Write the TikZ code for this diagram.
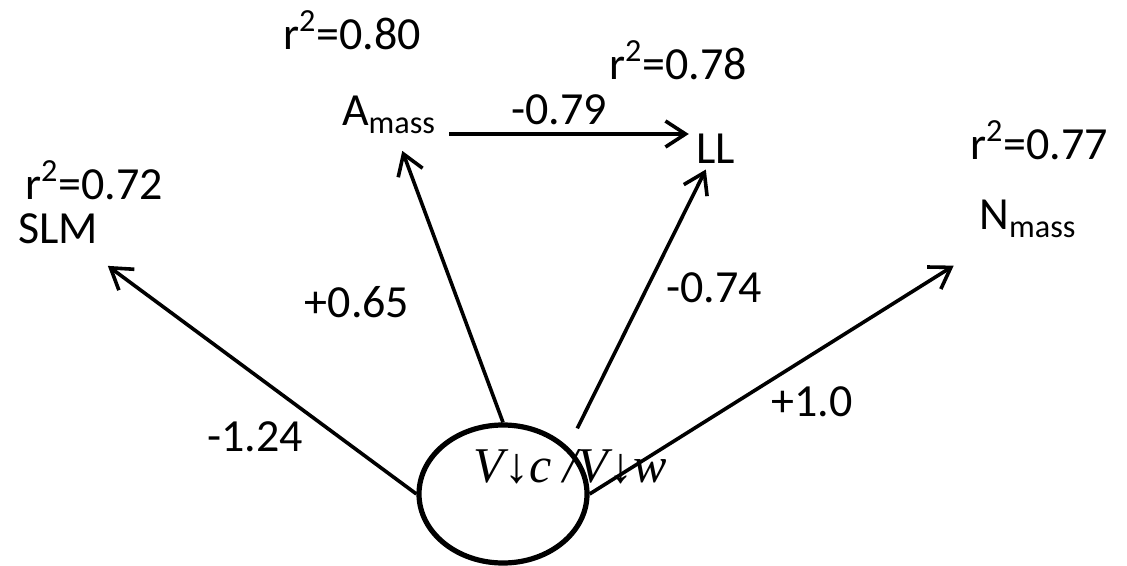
\documentclass[tikz,border=0pt]{standalone}
\usepackage{fontspec}
\setmainfont{Carlito}
\newfontfamily\ratiofont{Liberation Serif}
\usetikzlibrary{arrows.meta,shapes.geometric}
\begin{document}
\begin{tikzpicture}[x=0.5pt, y=-0.5pt,
    lbl/.style={inner sep=0pt, font=\fontsize{23}{27}\selectfont},
    arr/.style={-{Straight Barb[length=10pt,width=13pt]}, line width=1.8pt}]
    \useasboundingbox (0,0) rectangle (1127,566);

    % Ratio ellipse
    \node[draw, ellipse, line width=2.6pt, minimum width=84pt, minimum height=69pt] (vc) at (503,494) {};
    \node[inner sep=0pt, font=\ratiofont\itshape\fontsize{25}{30}\selectfont] (ratio) at (570,467) {V↓c /V↓w};

    % Traits
    \node[lbl] (slm) at (58,229) {SLM};
    \node[lbl] (amass) at (389,115) {A\textsubscript{mass}};
    \node[lbl] (ll) at (716,149) {LL};
    \node[lbl] (nmass) at (1028,219) {N\textsubscript{mass}};

    % Fits
    \node[lbl] (r2slm) at (94,180) {r\textsuperscript{2}=0.72};
    \node[lbl] (r2amass) at (352,30) {r\textsuperscript{2}=0.80};
    \node[lbl] (r2ll) at (678,60) {r\textsuperscript{2}=0.78};
    \node[lbl] (r2nmass) at (1039,140) {r\textsuperscript{2}=0.77};

    % Paths
    \draw[arr, shorten >=18pt] (vc.west) -- (slm);
    \draw[arr, shorten >=9pt] (vc.north) -- (amass);
    \draw[arr, shorten >=3pt] ([xshift=6.5pt,yshift=7.5pt]vc.north east) -- (ll);
    \draw[arr, shorten >=26pt] (vc.east) -- (nmass);
    \draw[arr] ([xshift=6.5pt]amass.south east) -- ([xshift=-3.75pt]amass.south east -| ll.west);

    % Coefficients
    \node[lbl] (c124) at (255,437) {-1.24};
    \node[lbl] (c065) at (357,302) {+0.65};
    \node[lbl] (c079) at (559,110) {-0.79};
    \node[lbl] (c074) at (714,288) {-0.74};
    \node[lbl] (c10) at (812,402) {+1.0};
\end{tikzpicture}
\end{document}
